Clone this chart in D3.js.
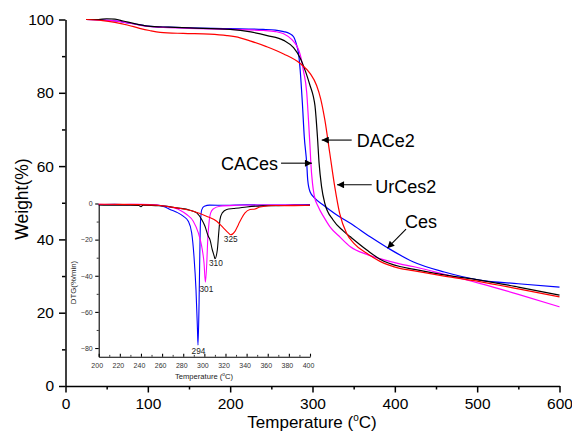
<!DOCTYPE html>
<html>
<head>
<meta charset="utf-8">
<script src="https://cdn.jsdelivr.net/npm/d3@7"></script>
<style>
  body { margin: 0; background: #fff; }
  svg { display: block; font-family: "Liberation Sans", Arial, sans-serif; }
</style>
</head>
<body>
<svg id="chart" width="572" height="436"></svg>
<script>
// ---- TG curves: [temperature (°C), weight (%)] ----
const cesTG = [[25,100],[40,99.9],[60,99.6],[80,98.9],[100,98.2],[125,97.9],[150,97.7],[200,97.5],[240,97.3],[255,97.1],[265,96.7],[272,96.2],[277,95.3],[281,92.8],[283,90.8],[285,86.3],[287.7,77.2],[290,68],[293,60.7],[294.2,56.2],[297,53],[303,51.2],[313,49.4],[330,46.6],[346,44.4],[370,40.7],[392,37.6],[422,33.9],[460,31.1],[503,28.9],[550,27.9],[600,27.0]];
const caCesTG = [[25,100],[40,99.9],[60,99.6],[80,98.9],[100,98.1],[125,97.8],[150,97.6],[200,97.3],[240,97.0],[255,96.7],[265,96.1],[275,94.5],[285,90.5],[289,86],[293,80],[295,73],[297,65.3],[298,60.8],[300,55.3],[302,52.1],[307,48.9],[314,46],[321,43.5],[334,40.5],[346,38],[366,35.9],[384,34.6],[406,33.3],[422,32.6],[460,30.5],[503,28],[550,25],[600,21.6]];
const daCe2TG = [[25,100],[40,100],[50,100.2],[60,100.1],[70,99.6],[85,98.8],[100,98.2],[125,97.9],[150,97.7],[200,97.3],[225,96.6],[245,95.6],[265,94.3],[277,92.3],[285,89.5],[292,85.5],[297,82],[301,79],[303,76.5],[306,68],[308,60.8],[311,54.4],[315,49.8],[325,45.3],[337,42.4],[346,40.7],[366,37.1],[382,34.6],[406,32.6],[422,31.9],[460,30.3],[503,28.9],[550,27],[600,24.8]];
const urCes2TG = [[25,100],[45,99.7],[60,99.2],[75,98.5],[90,97.6],[102,97],[115,96.5],[143,96.2],[175,96],[196,95.6],[212,95],[225,94.1],[244,92.6],[265,90.6],[285,88],[297,85.3],[305,82],[310,78.3],[315,72.6],[321,63.5],[327,54.4],[333,47.1],[341.5,41.6],[350,39],[366,36.2],[382,34],[406,32.1],[422,31.5],[460,30],[503,28.5],[550,26.5],[600,24.3]];

// ---- DTG curves: [temperature (°C), rate (%/min)] ----
const cesDTG = [[200,-0.6],[215,-0.4],[230,-0.7],[245,-0.6],[255,-0.9],[262,-1.8],[267.5,-3.3],[273.8,-4.8],[280,-7],[284.8,-9.8],[288,-16.3],[290.2,-29.3],[292.1,-47.8],[293.5,-70],[294,-78.4],[295,-55],[295.7,-28],[296.3,-10.7],[297.5,-3.5],[300,-1.5],[305,-0.9],[320,-1],[340,-0.7],[360,-0.9],[380,-0.8],[400,-0.6]];
const caCesDTG = [[200,-0.5],[220,-0.6],[240,-0.4],[250,-0.7],[258,-1.1],[270.6,-2.4],[277,-3.7],[283.3,-6.1],[289.5,-9.8],[294.3,-16.3],[297.5,-23.7],[299.7,-33],[301,-43.5],[302.3,-33],[303.2,-20],[304.4,-10.7],[306,-5.2],[308.5,-3],[314.8,-1.5],[330,-1],[350,-0.8],[370,-0.9],[385,-0.7],[400,-0.8]];
const daCe2DTG = [[200,-0.8],[215,-1],[230,-0.9],[238,-1.1],[240,-1.8],[242,-0.9],[255,-1.2],[265,-1.6],[273.8,-2.4],[286.4,-3.7],[292.8,-5.2],[297.5,-8.9],[300.6,-12.6],[303.7,-18.1],[305.3,-20],[307.5,-25.6],[309.4,-29.3],[310,-30.6],[312.3,-25.6],[313.6,-16.3],[314.8,-8.9],[317,-5.2],[321.2,-3.3],[327.5,-2.8],[340,-1.9],[355,-1.3],[370,-1.2],[385,-1],[400,-1]];
const urCes2DTG = [[200,-0.4],[220,-0.5],[240,-0.6],[258,-1.1],[273.8,-2.4],[289.5,-4.3],[302,-7],[311.7,-9.8],[318,-13.5],[322.7,-16.3],[325,-17.3],[329,-15.4],[332.2,-11.7],[335.4,-8],[338.5,-5.2],[343.2,-3.3],[348,-3],[352.7,-1.9],[368,-1.1],[385,-1.2],[400,-1]];

// ---- series names and colours ----
const seriesNames = ["Ces", "CACes", "DACe2", "UrCes2"];
const seriesColors = ["#0000ff", "#ff00ff", "#000000", "#ff0000"];
const tgSeries = [cesTG, caCesTG, daCe2TG, urCes2TG];
const dtgSeries = [cesDTG, caCesDTG, daCe2DTG, urCes2DTG];

// ---- peak temperatures of the DTG curves ----
const peakTemps = [294, 301, 310, 325];
const peakRates = [-78.4, -43.5, -30.6, -17.3];

// ---- axis ticks ----
const tempTicks = [0, 100, 200, 300, 400, 500, 600];
const tempMinorTicks = [50, 150, 250, 350, 450, 550];
const weightTicks = [0, 20, 40, 60, 80, 100];
const weightMinorTicks = [10, 30, 50, 70, 90];
const dtgTempTicks = [200, 220, 240, 260, 280, 300, 320, 340, 360, 380, 400];
const dtgTempMinorTicks = [210, 230, 250, 270, 290, 310, 330, 350, 370, 390];
const dtgTicks = [0, -20, -40, -60, -80];
const dtgMinorTicks = [-10, -30, -50, -70];

// ---- curve labels with arrows: [tail T, tail W] -> [tip T, tip W] ----
const labelNames = ["DACe2", "CACes", "UrCes2", "Ces"];
const labelTails = [[347.6, 67.1], [261.8, 60.8], [371.9, 54.9], [413.6, 42.8]];
const labelTips = [[311.2, 67.1], [299.3, 60.8], [329.8, 54.9], [390.9, 37.6]];

const svg = d3.select("#chart");

// arrowhead marker
svg.append("defs").append("marker")
  .attr("id", "arrowhead")
  .attr("viewBox", "0 0 10 10")
  .attr("refX", 10).attr("refY", 5)
  .attr("markerWidth", 8).attr("markerHeight", 7)
  .attr("markerUnits", "userSpaceOnUse")
  .attr("orient", "auto")
  .append("path").attr("d", "M0,0 L10,5 L0,10 z").attr("fill", "#000");

// ===== main TG plot =====
const x = d3.scaleLinear().domain([0, 600]).range([65.5, 559.5]);
const y = d3.scaleLinear().domain([0, 100]).range([386, 19.5]);

const main = svg.append("g");

function styleAxis(g, width, fontSize, color) {
  g.select(".domain").attr("stroke", "#000").attr("stroke-width", width);
  g.selectAll(".tick line").attr("stroke", "#000").attr("stroke-width", width);
  g.selectAll(".tick text").attr("fill", color).style("font-size", fontSize + "px")
    .style("font-family", '"Liberation Sans", Arial, sans-serif');
}

// minor ticks
main.append("g").attr("transform", "translate(0,386)")
  .call(d3.axisBottom(x).tickValues(tempMinorTicks).tickSize(3.5).tickFormat(""))
  .call(g => { g.select(".domain").remove(); styleAxis(g, 1.5, 15, "#000"); });
main.append("g").attr("transform", "translate(65.5,0)")
  .call(d3.axisLeft(y).tickValues(weightMinorTicks).tickSize(3.5).tickFormat(""))
  .call(g => { g.select(".domain").remove(); styleAxis(g, 1.5, 15, "#000"); });

// major axes
main.append("g").attr("transform", "translate(0,386)")
  .call(d3.axisBottom(x).tickValues(tempTicks).tickSize(6.5).tickSizeOuter(0).tickPadding(5).tickFormat(d3.format("d")))
  .call(g => styleAxis(g, 1.5, 15.5, "#000"));
main.append("g").attr("transform", "translate(65.5,0)")
  .call(d3.axisLeft(y).tickValues(weightTicks).tickSize(6.5).tickSizeOuter(0).tickPadding(5).tickFormat(d3.format("d")))
  .call(g => styleAxis(g, 1.5, 15.5, "#000"));

// axis titles
const xTitle = main.append("text")
  .attr("x", 312).attr("y", 428).attr("text-anchor", "middle")
  .style("font-size", "17px").attr("fill", "#000");
xTitle.append("tspan").text("Temperature (");
xTitle.append("tspan").attr("dy", -7).style("font-size", "10px").text("o");
xTitle.append("tspan").attr("dy", 7).text("C)");

main.append("text")
  .attr("transform", "translate(28,199) rotate(-90)")
  .attr("text-anchor", "middle")
  .style("font-size", "17.5px").attr("fill", "#000")
  .text("Weight(%)");

const tgLine = d3.line().x(d => x(d[0])).y(d => y(d[1])).curve(d3.curveMonotoneX);
main.selectAll("path.tg").data(tgSeries).join("path")
  .attr("class", "tg")
  .attr("d", tgLine)
  .attr("fill", "none")
  .attr("stroke", (d, i) => seriesColors[i])
  .attr("stroke-width", 1.2);

// arrows and curve labels
labelNames.forEach((name, i) => {
  const [t0, w0] = labelTails[i];
  const [t1, w1] = labelTips[i];
  main.append("line")
    .attr("x1", x(t0)).attr("y1", y(w0))
    .attr("x2", x(t1)).attr("y2", y(w1))
    .attr("stroke", "#000").attr("stroke-width", 1.1)
    .attr("marker-end", "url(#arrowhead)");
});
const lbl = (name, xp, yp, anchor) => main.append("text")
  .attr("x", xp).attr("y", yp).attr("text-anchor", anchor)
  .style("font-size", "18px").attr("fill", "#000").text(name);
lbl(labelNames[0], x(labelTails[0][0]) + 5, y(labelTails[0][1]) + 6.5, "start");
lbl(labelNames[1], x(labelTails[1][0]) - 3, y(labelTails[1][1]) + 7, "end");
lbl(labelNames[2], x(labelTails[2][0]) + 3.5, y(labelTails[2][1]) + 8, "start");
lbl(labelNames[3], x(labelTails[3][0]) - 1, y(labelTails[3][1]) - 1, "start");

// ===== inset DTG plot =====
const xi = d3.scaleLinear().domain([200, 400]).range([98.7, 310]);
const yi = d3.scaleLinear().domain([-84.8, 0]).range([356.7, 203.5]);
const inset = svg.append("g");

inset.append("g").attr("transform", "translate(0,356.7)")
  .call(d3.axisBottom(xi).tickValues(dtgTempMinorTicks).tickSize(-1.8).tickFormat(""))
  .call(g => { g.select(".domain").remove(); styleAxis(g, 0.8, 7, "#333"); });
inset.append("g").attr("transform", "translate(98.7,0)")
  .call(d3.axisLeft(yi).tickValues(dtgMinorTicks).tickSize(2).tickFormat(""))
  .call(g => { g.select(".domain").remove(); styleAxis(g, 0.8, 7, "#333"); });

const ixAxis = inset.append("g").attr("transform", "translate(0,356.7)")
  .call(d3.axisBottom(xi).tickValues(dtgTempTicks).tickSizeInner(-3).tickSizeOuter(0).tickPadding(6).tickFormat(d3.format("d")))
  .call(g => styleAxis(g, 1.1, 7, "#333"));
ixAxis.selectAll(".tick text").attr("dx", -2);
inset.append("g").attr("transform", "translate(98.7,0)")
  .call(d3.axisLeft(yi).tickValues(dtgTicks).tickSize(3.5).tickSizeOuter(0).tickPadding(2.5).tickFormat(d3.format("d")))
  .call(g => styleAxis(g, 1.1, 7, "#333"));

const ixTitle = inset.append("text")
  .attr("x", 204).attr("y", 378.5).attr("text-anchor", "middle")
  .style("font-size", "7.6px").attr("fill", "#222");
ixTitle.append("tspan").text("Temperature (");
ixTitle.append("tspan").attr("dy", -3).style("font-size", "4.8px").text("o");
ixTitle.append("tspan").attr("dy", 3).text("C)");

inset.append("text")
  .attr("transform", "translate(75.5,282.5) rotate(-90)")
  .attr("text-anchor", "middle")
  .style("font-size", "7.8px").attr("fill", "#222")
  .text("DTG(%/min)");

const dtgLine = d3.line().x(d => xi(d[0])).y(d => yi(d[1])).curve(d3.curveMonotoneX);
inset.selectAll("path.dtg").data(dtgSeries).join("path")
  .attr("class", "dtg")
  .attr("d", dtgLine)
  .attr("fill", "none")
  .attr("stroke", (d, i) => seriesColors[i])
  .attr("stroke-width", 1.1);

// peak temperature labels
const peakOffsets = [8.5, 10, 7, 7.7];
const peakShift = [0.5, 1, 1, 0];
peakTemps.forEach((t, i) => {
  inset.append("text")
    .attr("x", xi(t) + peakShift[i])
    .attr("y", yi(peakRates[i]) + peakOffsets[i])
    .attr("text-anchor", "middle")
    .style("font-size", "8.3px").attr("fill", "#222")
    .text(d3.format("d")(t));
});
</script>
</body>
</html>
